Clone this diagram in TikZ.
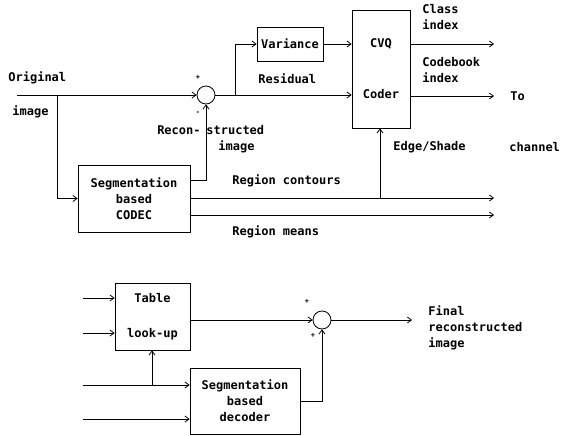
\documentclass[tikz,border=0pt]{standalone}
\usepackage{fontspec}
\setmonofont{DejaVu Sans Mono}
\usetikzlibrary{arrows.meta}
\begin{document}
\begin{tikzpicture}[>={Straight Barb[length=4pt,width=6pt]}, x=1pt, y=-1pt, line width=0.8pt,
    font=\ttfamily\bfseries\fontsize{12}{16}\selectfont,
    box/.style={draw, align=center, inner sep=0pt},
    sum/.style={draw, circle, minimum size=18pt, inner sep=0pt},
    lbl/.style={anchor=west, align=left, inner sep=0pt},
    sgn/.style={inner sep=0pt, font=\ttfamily\bfseries\scriptsize}]
\useasboundingbox (0,0) rectangle (566,436);

% encoder
\node[box, minimum width=112, minimum height=67](S1) at (134,198.5) {Segmentation\\based\\CODEC};
\node[sum](C1) at (206,95) {};
\node[box, minimum width=66, minimum height=34](V) at (290,44) {Variance};
\node[box, minimum width=58, minimum height=118](Q) at (381,69) {CVQ\\[35pt]Coder};

\coordinate (in0) at (17,95);
\coordinate (b1) at (57,95);
\coordinate (b2) at (235,95);
\coordinate (o1) at (494,44);
\coordinate (o2) at (494,96);
\coordinate (o3) at (494,198);
\coordinate (o4) at (494,215);
\coordinate (b3) at (380,198);

\draw[->](in0)--(C1.west);
\draw[->](b1)|-(S1.west);
\draw[->]([yshift=-16pt]S1.north east)-|(C1.south);
\draw[->](C1.east)--(Q.west |- C1.east);
\draw[->](b2)|-(V.west);
\draw[->](V.east)--(Q.west |- V.east);
\draw[->](Q.east |- o1)--(o1);
\draw[->](Q.east |- o2)--(o2);
\draw[->](S1.east |- o3)--(o3);
\draw[->](S1.east |- o4)--(o4);
\draw[->](b3)--(Q.south -| b3);

\node[lbl] (L1) at (8,78) {Original};
\node[lbl] (L2) at (12,112) {image};
\node[sgn] (P1) at (198,77) {+};
\node[sgn] (M1) at (198,113) {-};
\node[lbl, anchor=east] (L3) at (201,130) {Recon-};
\node[lbl] (L4) at (206,130) {structed};
\node[lbl] (L5) at (218,147) {image};
\node[lbl] (L6) at (258,79) {Residual};
\node[lbl] (L7) at (422,17.5) {Class\\index};
\node[lbl] (L8) at (422,70.5) {Codebook\\index};
\node[lbl] (L9) at (510,96) {To};
\node[lbl] (L10) at (509,147) {channel};
\node[lbl] (L11) at (393,147) {Edge/Shade};
\node[lbl] (L12) at (232,181) {Region contours};
\node[lbl] (L13) at (232,232) {Region means};

% decoder
\node[box, minimum width=75, minimum height=67](T) at (152.5,316.5) {Table\\[19pt]look-up};
\node[box, minimum width=110, minimum height=66](D) at (245,401) {Segmentation\\based\\decoder};
\node[sum](C2) at (322,320) {};

\coordinate (i1) at (83,298);
\coordinate (i2) at (83,333);
\coordinate (i3) at (83,385);
\coordinate (i4) at (83,419);
\coordinate (b4) at (152,385);
\coordinate (o5) at (412,320);

\draw[->](i1)--(T.west |- i1);
\draw[->](i2)--(T.west |- i2);
\draw[->](i3)--(D.west |- i3);
\draw[->](i4)--(D.west |- i4);
\draw[->](b4)--(T.south -| b4);
\draw[->](T.east |- C2)--(C2.west);
\draw[->](D.east)-|(C2.south);
\draw[->](C2.east)--(o5);

\node[sgn] (P2) at (307,301) {+};
\node[sgn] (P3) at (313,335) {+};
\node[lbl] (L14) at (428,328) {Final\\reconstructed\\image};

\end{tikzpicture}
\end{document}
